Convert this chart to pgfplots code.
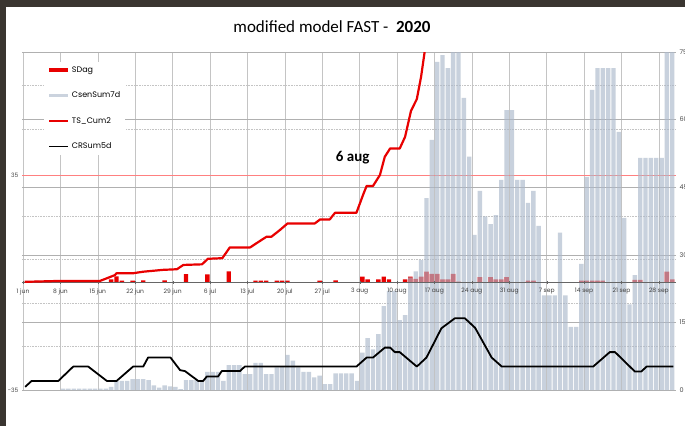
\documentclass[border=0pt]{standalone}
\usepackage{fontspec}
\setmainfont{Carlito}
\newfontfamily\pop{Poppins}
\usepackage{pgfplots}
\pgfplotsset{compat=1.18}
\usepackage{pgfplotstable}

\definecolor{barg}{RGB}{172,185,203}
\definecolor{barv}{RGB}{203,211,222}
\definecolor{sred}{RGB}{232,0,0}
\definecolor{band}{RGB}{58,53,48}
\definecolor{gridc}{RGB}{196,196,196}

% CsenSum7d (right scale), day index d = days after 1 jun
\pgfplotstableread{
d c
7 0.3
8 0.3
9 0.3
10 0.3
11 0.3
12 0.3
13 0.3
14 0.3
15 0.3
16 0.7
17 2
18 2
19 2
20 2.4
21 2.4
22 2.4
23 2.2
24 1
25 0.5
26 1
27 0.8
28 0.7
29 0.2
30 2.2
31 2.2
32 2.2
33 2
34 4
35 4
36 4
37 2
38 5.5
39 5.5
40 5.5
41 3.5
42 3.5
43 6
44 6
45 3.5
46 3.5
47 5
48 5.3
49 7.8
50 6.5
51 5
52 4
53 4
54 2.8
55 3.2
56 1.3
57 1.3
58 3.7
59 3.7
60 3.7
61 3.7
62 2
63 8.3
64 11.5
65 9
66 12.4
67 18.6
68 22
69 22
70 15.5
71 16.6
72 25
73 26.3
74 28.8
75 42.6
76 55.5
77 72.8
78 74.3
79 71.4
80 80
81 80
82 64.8
83 51.8
84 34.4
85 44.2
86 38.5
87 36.8
88 38.8
89 46.6
90 62.1
91 62.1
92 46.6
93 46.6
94 41.5
95 44.2
96 36.4
97 21
98 21
99 21
100 34.9
101 21
102 14
103 14
104 28
105 47.3
106 66.6
107 71.4
108 71.4
109 71.4
110 71.4
111 57.3
112 38.2
113 19
114 25.5
115 51.5
116 51.5
117 51.5
118 51.5
119 51.5
120 80
121 80
}\csen

% SDag (left scale)
\pgfplotstableread{
d v
2 0.5
16 1
17 2
18 0.6
20 0.6
22 0.7
26 0.7
30 2.7
34 2.6
38 3.6
43 0.6
44 0.6
45 0.6
47 0.6
48 0.6
49 0.6
55 0.6
58 0.7
63 1.9
64 1
66 1
67 1.9
68 1
71 1
72 1.9
73 1.2
74 1.9
75 3.5
76 2.8
77 2.8
78 1
79 1
80 2.8
81 0.3
85 1.7
87 1.7
88 1
89 1
90 1.7
94 0.6
95 0.6
104 0.6
105 0.6
106 0.6
107 0.6
108 0.6
114 0.8
115 0.8
120 3.5
121 1
}\sdag

\begin{document}
\begin{tikzpicture}
\useasboundingbox (0,0) rectangle (685pt,426pt);
\fill[white] (0,0) rectangle (685pt,426pt);
\fill[band] (0,0) rectangle (6pt,426pt);
\fill[band] (0,419pt) rectangle (685pt,426pt);

\pgfplotsset{base/.style={at={(22pt,36pt)}, anchor=south west, scale only axis,
  width=654pt, height=338pt, xmin=-0.19, xmax=122.2, enlargelimits=false,
  axis line style={draw=none}, tick style={draw=none},
  /pgf/number format/assume math mode=true}}

% axis 1: grids, threshold, SDag bars (left scale)
\begin{axis}[base, ymin=-35, ymax=75,
  xtick={0,7,...,119}, xticklabels={}, xmajorgrids,
  major grid style={gridc, line width=0.6pt},
  ytick={-35,35}, yticklabels={-35,35},
  yticklabel style={font=\pop\fontsize{6}{7}\selectfont, text=black!70},
  extra y ticks={-20.85,-6.7,7.45,21.6,49.9,64.05}, extra y tick labels={},
  extra y tick style={grid=major, major grid style={gridc, densely dotted, line width=0.6pt}}]
\addplot[red!50, line width=0.7pt] coordinates {(-0.19,35) (122.2,35)};
\addplot[ybar, bar width=0.82, bar shift=0pt, fill=sred, draw=none]
  table[x expr=\thisrow{d}+0.5, y=v] {\sdag};
\end{axis}

% axis 2: CsenSum7d bars (right scale)
\begin{axis}[base, ymin=0, ymax=75, xtick=\empty,
  ytick={0,15,30,45,60,75}, yticklabel pos=right, ymajorgrids,
  major grid style={gridc!90!black, line width=0.6pt},
  yticklabel style={font=\pop\fontsize{6.5}{7}\selectfont, text=black!70}]
\addplot[ybar, bar width=0.82, bar shift=0pt, fill=barg, fill opacity=0.65, draw=none]
  table[x expr=\thisrow{d}+0.5, y=c] {\csen};
\end{axis}

% axis 3: date axis and TS_Cum2 (left scale)
\begin{axis}[at={(22pt,36pt)}, anchor=south west, scale only axis,
  width=654pt, height=338pt, xmin=-0.19, xmax=122.2, ymin=-35, ymax=75,
  enlargelimits=false, axis x line=middle, axis y line=none, ytick=\empty,
  x axis line style={-, draw=black!60, line width=0.8pt},
  xtick={0,7,...,119},
  xticklabels={1 jun,8 jun,15 jun,22 jun,29 jun,6 jul,13 jul,20 jul,27 jul,3 aug,10 aug,17 aug,24 aug,31 aug,7 sep,14 sep,21 sep,28 sep},
  xticklabel style={font=\pop\fontsize{6}{7}\selectfont, text=black!75, yshift=-1pt},
  major tick length=3pt, tick style={black!60}]
\addplot[sred, line width=2.2pt, line join=round] coordinates {
(0.3,0.2) (2.6,0.3) (7,0.5) (14.4,0.5) (15.6,1.3) (17.2,2.4) (17.5,3.0) (20.6,3.0)
(22.5,3.5) (26.2,4.1) (28.8,4.3) (30,5.7) (33.5,5.9) (34.6,7.7) (37.3,7.9) (38.7,11.4)
(42.5,11.4) (44.6,13.8) (45.6,14.9) (46.5,14.9) (48.1,17.1) (49.5,19.2) (54.6,19.2)
(55.6,20.5) (57.4,20.5) (58.4,22.7) (62.4,22.7) (63.7,28.8) (64.3,31.4) (65.5,31.4)
(66.8,35) (67.7,40.9) (68.7,43.6) (70.5,43.6) (71.5,47.4) (72.6,55.8) (73.7,59.7)
(74.5,67) (75.2,75.5) (75.8,85)};
\node[font=\bfseries\fontsize{15}{18}\selectfont] at (axis cs:61.7,40.5) {6 aug};
\end{axis}

% axis 4: CRSum5d (right scale) and legend
\begin{axis}[base, ymin=0, ymax=75, xtick=\empty, ytick=\empty,
  legend style={at={(0.034,0.972)}, anchor=north west, draw=none, fill=white,
    font=\pop\fontsize{8}{9}\selectfont, row sep=14pt, inner sep=3pt},
  legend cell align=left,
  legend image code/.code={\draw[#1] (0pt,0pt) -- (19pt,0pt);}]
\addlegendimage{sred, line width=3.5pt}
\addlegendentry{SDag}
\addlegendimage{barv, line width=2.5pt}
\addlegendentry{CsenSum7d}
\addlegendimage{sred, line width=2pt}
\addlegendentry{TS\_Cum2}
\addlegendimage{black, line width=1.6pt}
\addlegendentry{CRSum5d}
\addplot[black, line width=1.8pt, line join=round, forget plot] coordinates {
(0.4,0.7) (1.6,2) (6.6,2) (9.4,5.2) (12.2,5.2) (15.7,2) (17.5,2) (20.6,5.2) (22.5,5.2)
(23.4,7.2) (27.6,7.2) (29.4,4.4) (30.3,4.2) (32.8,2) (33.7,2) (34.4,3) (36.5,3)
(37.2,4.2) (40.6,4.2) (41.5,5.2) (62.4,5.2) (64.3,7.2) (65.5,7.2) (67.7,9.4) (68.7,9.4)
(69.6,8.4) (70.5,8.4) (73.7,5.2) (75.5,7.2) (78.3,13.7) (80.8,15.9) (82.7,15.9)
(84.6,13.8) (87.7,7.2) (89.6,5.2) (106.7,5.2) (109.8,8.4) (110.8,8.4) (114.5,4.1)
(115.7,4.1) (116.7,5.2) (121.7,5.2)};
\end{axis}

\node[font=\fontsize{17}{20}\selectfont] at (332pt,399pt) {modified model FAST -\ \ \textbf{2020}};
\end{tikzpicture}
\end{document}
